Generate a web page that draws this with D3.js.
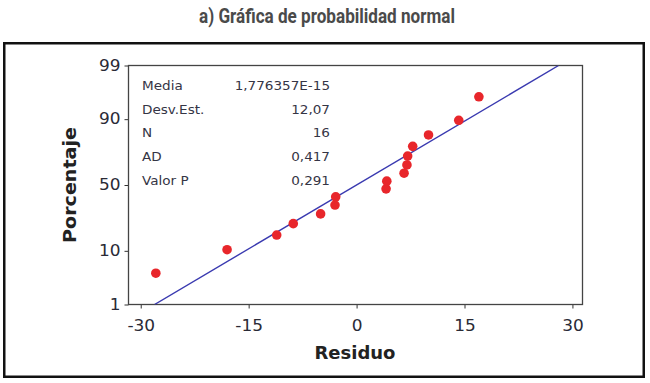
<!DOCTYPE html>
<html><head><meta charset="utf-8">
<script src="https://cdn.jsdelivr.net/npm/d3@7"></script>
<style>body{margin:0;background:#fff;} svg{display:block;}</style>
</head><body><svg id="c" width="650" height="383"></svg>
<script>
// ---- data ----
const residuals = [-27.9,-18.0,-11.1,-8.8,-5.0,-3.0,-2.9,4.1,4.2,6.6,7.0,7.1,7.8,10.0,14.2,17.0];
const percents  = [4.3,10.4,16.5,22.6,28.7,34.8,40.9,47.0,53.0,59.1,65.2,71.3,77.4,83.5,89.6,95.7];
const xTicks = [-30,-15,0,15,30];
const yTicks = [1,10,50,90,99];
const fitMean = 0, fitSd = 12.07;
const statLabels = ["Media","Desv.Est.","N","AD","Valor P"];
const statValues = ["1,776357E-15","12,07","16","0,417","0,291"];
const titleText = "a) Gráfica de probabilidad normal";
const xTitle = "Residuo", yTitle = "Porcentaje";

function probit(p){
 const a=[-3.969683028665376e+01,2.209460984245205e+02,-2.759285104469687e+02,1.383577518672690e+02,-3.066479806614716e+01,2.506628277459239e+00];
 const b=[-5.447609879822406e+01,1.615858368580409e+02,-1.556989798598866e+02,6.680131188771972e+01,-1.328068155288572e+01];
 const c=[-7.784894002430293e-03,-3.223964580411365e-01,-2.400758277161838e+00,-2.549732539343734e+00,4.374664141464968e+00,2.938163982698783e+00];
 const d=[7.784695709041462e-03,3.224671290700398e-01,2.445134137142996e+00,3.754408661907416e+00];
 const pl=0.02425, ph=1-pl; let q,r;
 if(p<pl){q=Math.sqrt(-2*Math.log(p));return (((((c[0]*q+c[1])*q+c[2])*q+c[3])*q+c[4])*q+c[5])/((((d[0]*q+d[1])*q+d[2])*q+d[3])*q+1);}
 if(p<=ph){q=p-0.5;r=q*q;return (((((a[0]*r+a[1])*r+a[2])*r+a[3])*r+a[4])*r+a[5])*q/(((((b[0]*r+b[1])*r+b[2])*r+b[3])*r+b[4])*r+1);}
 q=Math.sqrt(-2*Math.log(1-p));return -(((((c[0]*q+c[1])*q+c[2])*q+c[3])*q+c[4])*q+c[5])/((((d[0]*q+d[1])*q+d[2])*q+d[3])*q+1);
}

const svg = d3.select("#c");
const L=128.5, R=582.5, T=65.5, B=304.5;
const x = d3.scaleLinear().domain([-31.7,31.4]).range([L,R]);
const z = d3.scaleLinear().domain([probit(0.01),probit(0.99)]).range([B,T]);
const yP = p => z(probit(p/100));
const font = "'DejaVu Sans', Verdana, sans-serif";
const SX = 1.13;

// outer border
svg.append("rect").attr("x",4.25).attr("y",43.25).attr("width",639.5).attr("height",333.5)
  .attr("fill","none").attr("stroke","#111").attr("stroke-width",2.5);

// title
svg.append("text").attr("x",327).attr("y",23).attr("text-anchor","middle")
  .attr("font-family","Roboto, 'Liberation Sans', sans-serif").attr("font-weight","bold")
  .attr("font-size",20).attr("fill","#4a4a4a")
  .attr("textLength",256).attr("lengthAdjust","spacingAndGlyphs").text(titleText);

// clip
svg.append("clipPath").attr("id","pc").append("rect").attr("x",L).attr("y",T).attr("width",R-L).attr("height",B-T);

// axes
const yAxis = d3.axisLeft(z).tickValues(yTicks.map(v=>probit(v/100))).tickFormat((d,i)=>String(yTicks[i])).tickSize(4).tickPadding(3);
const gy = svg.append("g").attr("transform",`translate(${L},0)`).call(yAxis);
const xAxis = d3.axisBottom(x).tickValues(xTicks).tickFormat(d=>String(d)).tickSize(4).tickPadding(12);
const gx = svg.append("g").attr("transform",`translate(0,${B})`).call(xAxis);
[gx,gy].forEach(g=>{
  g.select(".domain").remove();
  g.selectAll(".tick line").attr("stroke","#333");
  g.selectAll(".tick text").attr("font-family",font).attr("font-size",15).attr("fill","#2a2a36")
    .attr("transform",`scale(${SX},1)`);
});

// frame
svg.append("rect").attr("x",L).attr("y",T).attr("width",R-L).attr("height",B-T)
  .attr("fill","none").attr("stroke","#444").attr("stroke-width",1.3);

// fitted line
const pr = [1,99];
svg.append("line").attr("clip-path","url(#pc)")
  .attr("x1",x(fitMean+fitSd*probit(pr[0]/100))).attr("y1",yP(pr[0]))
  .attr("x2",x(fitMean+fitSd*probit(pr[1]/100))).attr("y2",yP(pr[1]))
  .attr("stroke","#3a3ab0").attr("stroke-width",1.4);

// points
svg.append("g").selectAll("circle").data(residuals).join("circle")
  .attr("cx",d=>x(d)).attr("cy",(d,i)=>yP(percents[i])).attr("r",4.8).attr("fill","#e8262b");

// stats box
const rowY = [90,113.7,137.4,161.1,184.8];
const st = svg.append("g").attr("font-family",font).attr("font-size",12).attr("fill","#353545");
statLabels.forEach((t,i)=>{
  st.append("text").attr("transform",`translate(142,${rowY[i]}) scale(${SX},1)`).text(t);
  st.append("text").attr("transform",`translate(330,${rowY[i]}) scale(${SX},1)`).attr("text-anchor","end").text(statValues[i]);
});

// axis titles
svg.append("text").attr("x",355).attr("y",359).attr("text-anchor","middle")
  .attr("font-family",font).attr("font-weight","bold").attr("font-size",17).attr("fill","#222")
  .attr("textLength",81).attr("lengthAdjust","spacingAndGlyphs").text(xTitle);
svg.append("text").attr("transform","translate(76,185) rotate(-90)").attr("text-anchor","middle")
  .attr("font-family",font).attr("font-weight","bold").attr("font-size",17).attr("fill","#222")
  .attr("textLength",116).attr("lengthAdjust","spacingAndGlyphs").text(yTitle);
</script></body></html>
